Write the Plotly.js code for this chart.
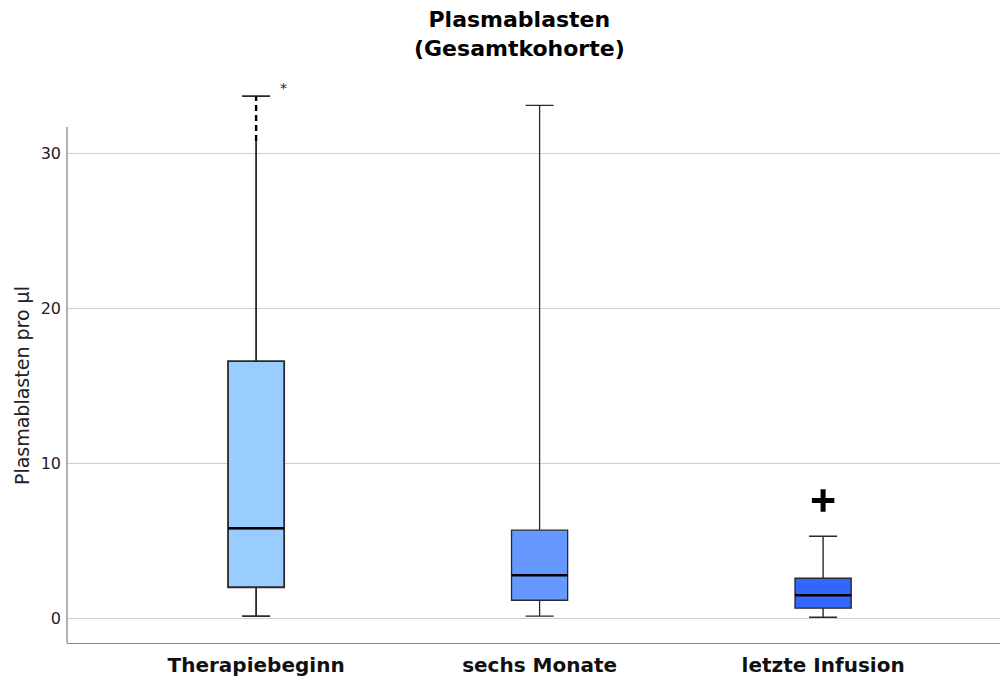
<!DOCTYPE html>
<html>
<head>
<meta charset="utf-8">
<script src="https://cdn.plot.ly/plotly-3.0.1.min.js"></script>
<style>html,body{margin:0;padding:0;background:#fff;}#chart{width:1002px;height:677px;}</style>
</head>
<body>
<div id="chart"></div>
<script>
// Data
const categories = ["Therapiebeginn", "sechs Monate", "letzte Infusion"];
const lowerWhisker = [0.13, 0.13, 0.06];
const q1 = [2.0, 1.16, 0.65];
const median = [5.8, 2.77, 1.48];
const q3 = [16.6, 5.68, 2.58];
const upperWhisker = [33.7, 33.1, 5.29];
const boxColors = ["#99CCFF", "#6699FF", "#3366FF"];
// dashed upper segment of the first whisker
const dashedFrom = [30.8];
const dashedTo = [33.7];
// extreme value (*) and outlier (+)
const extremeCat = ["Therapiebeginn"];
const extremeVal = [34.2];
const outlierCat = ["letzte Infusion"];
const outlierVal = [7.6];
const yTicks = [0, 10, 20, 30];

const BOXW = 0.198;
const lineWidths = [1.8, 1.3, 1.4];
const traces = categories.map((c, i) => ({
  type: "box",
  x: [c],
  q1: [q1[i]], median: [median[i]], q3: [q3[i]],
  lowerfence: [lowerWhisker[i]], upperfence: [upperWhisker[i]],
  fillcolor: boxColors[i],
  line: {color: "#2a2a2a", width: lineWidths[i]},
  width: BOXW,
  whiskerwidth: 0.5,
  boxpoints: false,
  hoverinfo: "skip",
  showlegend: false
}));
// dashed whisker segment
traces.push({
  type: "scatter", mode: "lines",
  x: [categories[0], categories[0]], y: [dashedFrom[0], dashedTo[0] - 0.05],
  line: {color: "#ffffff", width: 4}, hoverinfo: "skip", showlegend: false
});
traces.push({
  type: "scatter", mode: "lines",
  x: [categories[0], categories[0]], y: [dashedFrom[0], dashedTo[0]],
  line: {color: "#000000", width: 2.4, dash: "6px,4px"}, hoverinfo: "skip", showlegend: false
});
traces.push({
  type: "scatter", mode: "markers",
  x: outlierCat, y: outlierVal,
  marker: {symbol: "cross-thin", size: 16, color: "#000000", line: {color: "#000000", width: 5}},
  hoverinfo: "skip", showlegend: false
});

const shapes = categories.map((c, i) => ({
  type: "line", xref: "x", yref: "y",
  x0: i - BOXW / 2, x1: i + BOXW / 2, y0: median[i], y1: median[i],
  line: {color: "#000000", width: 2.5}
}));
const yMin = -1.6;
shapes.push({
  type: "line", xref: "paper", yref: "y",
  x0: 0, x1: 0, y0: yMin, y1: 31.7,
  line: {color: "#888888", width: 1.3}
});

const annotations = [
  {x: 0.485, y: 1.126, xref: "paper", yref: "paper", xanchor: "center", yanchor: "top",
   text: "<b>Plasmablasten<br>(Gesamtkohorte)</b>", showarrow: false, align: "center",
   font: {family: "DejaVu Sans", size: 22, color: "#000"}},
  {x: extremeCat[0], y: extremeVal[0], xref: "x", yref: "y", text: "*", showarrow: false,
   xshift: 27, font: {family: "DejaVu Sans", size: 14, color: "#222"}},
  {x: -0.048, y: 15, xref: "paper", yref: "y", text: "Plasmablasten pro µl", textangle: -90,
   showarrow: false, xanchor: "center", yanchor: "middle",
   font: {family: "DejaVu Sans", size: 19, color: "#222"}}
];

const layout = {
  width: 1002, height: 677,
  margin: {l: 67, r: 2, t: 75.5, b: 34},
  paper_bgcolor: "#ffffff", plot_bgcolor: "#ffffff",
  boxmode: "overlay",
  xaxis: {
    type: "category", categoryorder: "array", categoryarray: categories,
    range: [-0.667, 2.624],
    showline: true, linecolor: "#888888", linewidth: 1.3,
    showgrid: false, zeroline: false, ticks: "",
    ticklabelstandoff: 4,
    tickfont: {family: "DejaVu Sans", size: 20, color: "#111", weight: "bold"},
    fixedrange: true
  },
  yaxis: {
    range: [yMin, 35],
    tickvals: yTicks, ticktext: yTicks.map(String),
    showgrid: true, gridcolor: "#cfcfcf", gridwidth: 1,
    zeroline: false, showline: false, ticks: "",
    ticklabelstandoff: 5,
    tickfont: {family: "DejaVu Sans", size: 16, color: "#222"},
    fixedrange: true
  },
  shapes: shapes,
  annotations: annotations
};

Plotly.newPlot("chart", traces, layout, {displayModeBar: false, staticPlot: true});
</script>
</body>
</html>
